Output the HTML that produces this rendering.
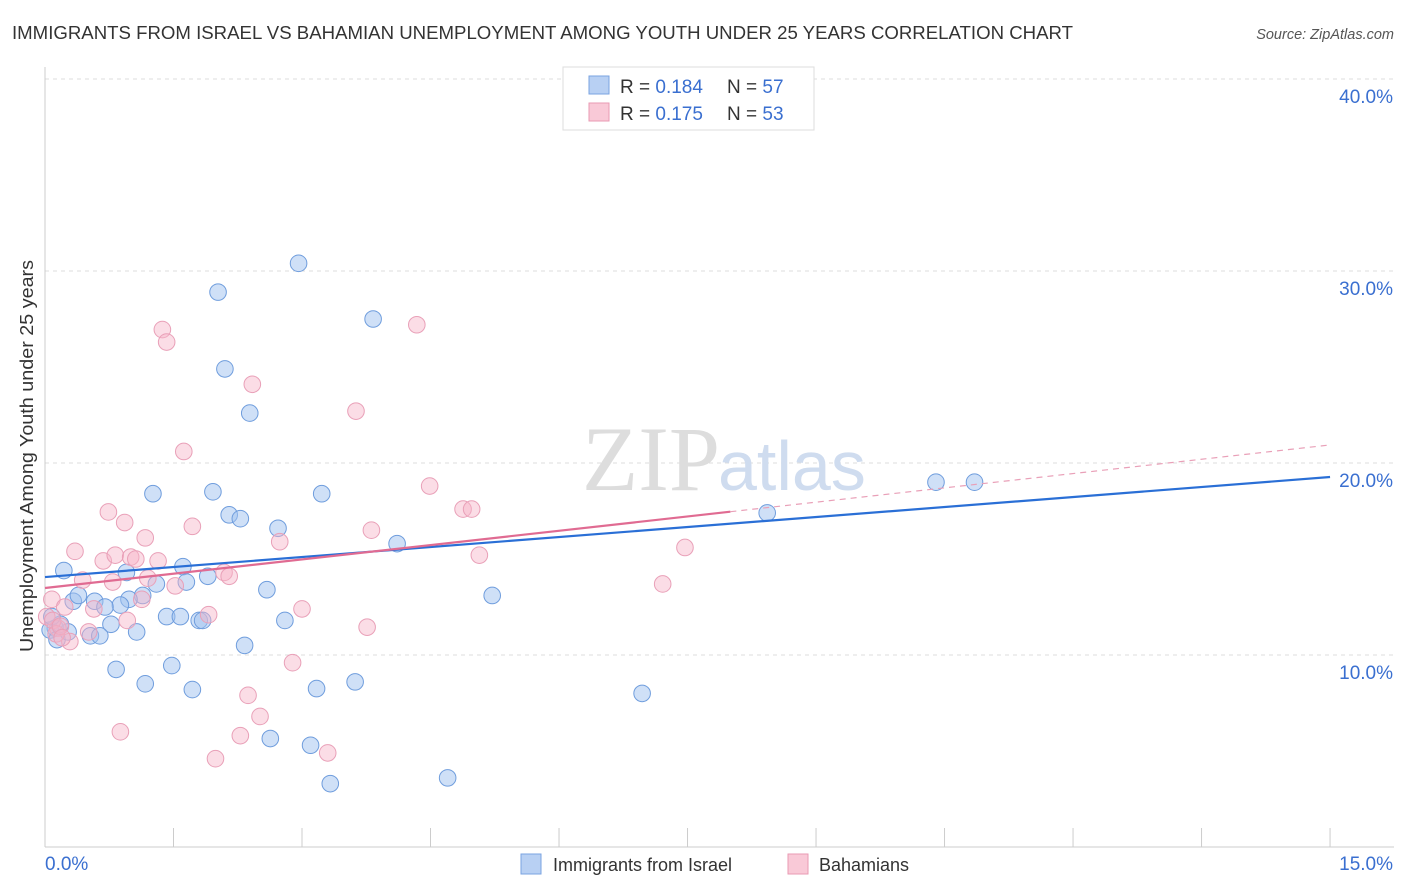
<!DOCTYPE html>
<html><head><meta charset="utf-8"><style>
body{margin:0;background:#fff;font-family:"Liberation Sans",sans-serif;}
svg{display:block}
</style></head><body>
<svg width="1406" height="892" viewBox="0 0 1406 892">
<text x="12" y="39" font-size="18" fill="#333" textLength="1061" lengthAdjust="spacingAndGlyphs">IMMIGRANTS FROM ISRAEL VS BAHAMIAN UNEMPLOYMENT AMONG YOUTH UNDER 25 YEARS CORRELATION CHART</text>
<text x="1394" y="39" font-size="14.5" fill="#555" font-style="italic" text-anchor="end">Source: ZipAtlas.com</text>
<g id="grid"></g>
<text x="720" y="490" font-size="92" fill="#ddd" text-anchor="end" font-family="Liberation Serif,serif">ZIP</text>
<text x="718" y="490" font-size="70" fill="#cfdcef">atlas</text>
<g id="axes"></g>
<g id="pts"></g>
<g id="lines"></g>
<text transform="translate(33,456) rotate(-90)" font-size="18" fill="#333" text-anchor="middle" textLength="392" lengthAdjust="spacingAndGlyphs">Unemployment Among Youth under 25 years</text>
<g>
<rect x="563" y="67" width="251" height="63" fill="#fff" stroke="#ddd"/>
<rect x="589" y="76" width="20" height="18" fill="#b8d0f3" stroke="#7aa3e0"/>
<text x="620" y="93" font-size="19" fill="#333">R = <tspan fill="#3a6fd0">0.184</tspan></text>
<text x="727" y="93" font-size="19" fill="#333">N = <tspan fill="#3a6fd0">57</tspan></text>
<rect x="589" y="103" width="20" height="18" fill="#f9c9d7" stroke="#e99ab3"/>
<text x="620" y="120" font-size="19" fill="#333">R = <tspan fill="#3a6fd0">0.175</tspan></text>
<text x="727" y="120" font-size="19" fill="#333">N = <tspan fill="#3a6fd0">53</tspan></text>
</g>
<g>
<rect x="521" y="854" width="20" height="20" fill="#b8d0f3" stroke="#7aa3e0"/>
<text x="553" y="871" font-size="18" fill="#333">Immigrants from Israel</text>
<rect x="788" y="854" width="20" height="20" fill="#f9c9d7" stroke="#e99ab3"/>
<text x="819" y="871" font-size="18" fill="#333">Bahamians</text>
</g>
</svg>
<script>
const yTicks=[10,20,30,40];
const xTickLabels=["0.0%","15.0%"];
const blueX=[2.96,2.02,3.83,2.1,2.39,1.26,1.96,3.23,2.15,2.28,2.72,4.11,10.4,10.85,8.43,0.22,0.95,1.61,1.3,1.65,1.9,2.59,5.22,1.14,0.98,0.33,0.58,0.39,0.88,0.7,1.42,1.58,1.8,1.84,2.8,0.77,1.07,0.12,0.06,0.14,0.27,0.53,0.64,2.33,0.83,1.48,1.17,1.72,3.17,3.62,6.97,2.63,3.1,3.33,4.7,0.18,0.08];
const blueY=[30.4,28.9,27.5,24.9,22.6,18.4,18.5,18.4,17.3,17.1,16.6,15.8,19.0,19.0,17.4,14.4,14.3,14.6,13.7,13.8,14.1,13.4,13.1,13.1,12.9,12.8,12.8,13.1,12.6,12.5,12.0,12.0,11.8,11.8,11.8,11.6,11.2,11.4,11.3,10.8,11.2,11.0,11.0,10.5,9.25,9.45,8.5,8.2,8.25,8.6,8.0,5.65,5.3,3.3,3.6,11.6,12.0];
const pinkX=[1.37,1.42,4.34,2.42,3.63,1.62,4.49,4.88,4.98,0.74,0.93,1.72,3.81,1.17,2.74,0.35,0.68,0.82,1.0,1.06,1.32,7.47,5.07,0.44,0.79,1.2,1.52,2.09,2.15,7.21,0.08,0.23,0.57,1.13,1.91,3.0,0.96,3.76,0.15,0.02,0.51,0.29,2.89,2.37,2.51,0.88,2.28,1.99,3.3,0.09,0.13,0.18,0.2];
const pinkY=[26.95,26.3,27.2,24.1,22.7,20.6,18.8,17.6,17.6,17.45,16.9,16.7,16.5,16.1,15.9,15.4,14.9,15.2,15.1,15.0,14.9,15.6,15.2,13.9,13.8,14.0,13.6,14.3,14.1,13.7,12.9,12.5,12.4,12.9,12.1,12.4,11.8,11.45,11.4,12.0,11.2,10.7,9.6,7.9,6.8,6.0,5.8,4.6,4.9,11.8,11.1,11.5,10.9];
const blueLine=[14.06,19.27];
const pinkLine=[13.49,20.94];
const X=v=>45+v*85.67, Y=v=>847-v*19.2;
const NS="http://www.w3.org/2000/svg";
function mk(t,a,p){const e=document.createElementNS(NS,t);for(const k in a)e.setAttribute(k,a[k]);p.appendChild(e);return e;}
const grid=document.getElementById('grid'),axes=document.getElementById('axes'),pts=document.getElementById('pts'),lines=document.getElementById('lines');
yTicks.forEach(t=>{
 const l=mk('line',{x1:45,x2:1394,y1:Y(t),y2:Y(t),stroke:'#ddd','stroke-dasharray':'4,4'},grid);
 
 
 const tx=mk('text',{x:1393,y:Y(t)+24,'font-size':19,fill:'#3a6fd0','text-anchor':'end'},axes);
 tx.textContent=t.toFixed(1)+'%';
 
 
});
mk('line',{x1:45,x2:45,y1:67,y2:847,stroke:'#ccc'},axes);
mk('line',{x1:45,x2:1394,y1:847,y2:847,stroke:'#ccc'},axes);
for(let i=0;i<=10;i++){const x=X(i*1.5);mk('line',{x1:x,x2:x,y1:828,y2:847,stroke:'#ccc'},axes);}
const xl0=mk('text',{x:45,y:870,'font-size':19,fill:'#3a6fd0'},axes);xl0.textContent=xTickLabels[0];


const xl1=mk('text',{x:1393,y:870,'font-size':19,fill:'#3a6fd0','text-anchor':'end'},axes);xl1.textContent=xTickLabels[1];


blueX.forEach((v,i)=>{const c=mk('circle',{cx:X(v),cy:Y(blueY[i]),r:8.3,fill:'rgba(160,194,240,0.5)',stroke:'#6f9ddd','stroke-width':1},pts);
 
 });
pinkX.forEach((v,i)=>{const c=mk('circle',{cx:X(v),cy:Y(pinkY[i]),r:8.3,fill:'rgba(246,180,200,0.45)',stroke:'#e9a0b8','stroke-width':1},pts);
 
 });
const bl=mk('line',{x1:X(0),y1:Y(blueLine[0]),x2:X(15),y2:Y(blueLine[1]),stroke:'#2a6fd6','stroke-width':2.2},lines);


const f=8/15, pm=pinkLine[0]+(pinkLine[1]-pinkLine[0])*f;
const pl=mk('line',{x1:X(0),y1:Y(pinkLine[0]),x2:X(8),y2:Y(pm),stroke:'#e06b92','stroke-width':2.2},lines);


const pd=mk('line',{x1:X(8),y1:Y(pm),x2:X(15),y2:Y(pinkLine[1]),stroke:'#e9a0b8','stroke-width':1.2,'stroke-dasharray':'6,5'},lines);


</script>
</body></html>
